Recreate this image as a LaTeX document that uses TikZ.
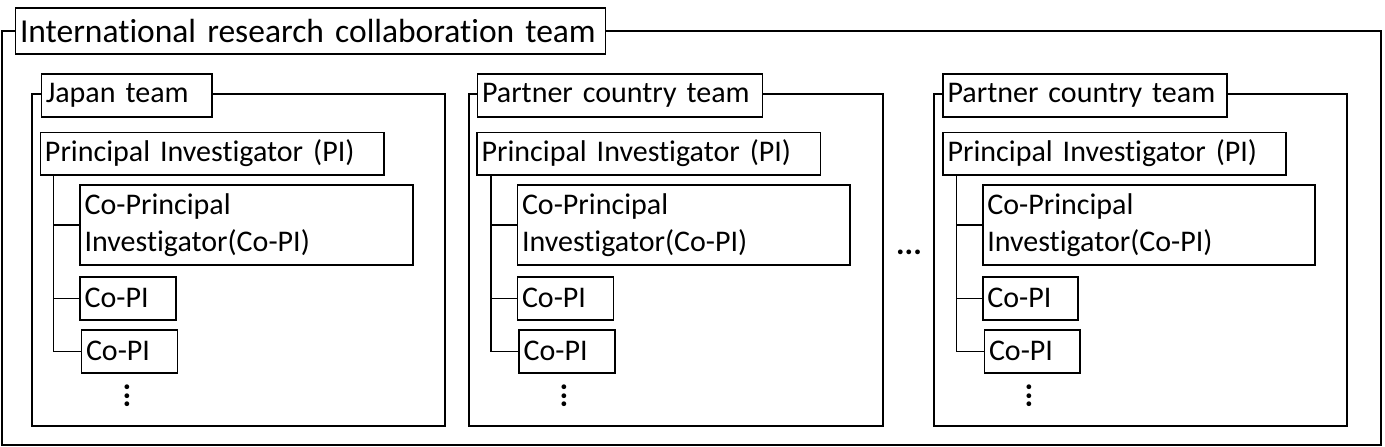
\documentclass[tikz,border=0pt]{standalone}
\usepackage{fontspec}
\setmainfont{Carlito}[Ligatures=NoCommon]
\tikzset{
    frame/.style={draw=black, line width=1.8pt},
    pbox/.style={draw=black, line width=1.6pt, fill=white, anchor=north west, align=left,
        inner xsep=4.5pt, inner ysep=0pt, font=\fontsize{30}{37}\selectfont},
    tree/.style={black, line width=1.4pt},
    dots/.style={inner sep=0pt, font=\fontsize{32}{36}\selectfont\bfseries}
}
\begin{document}
\begin{tikzpicture}[x=1pt, y=-1pt]
        \useasboundingbox (0,0) rectangle (1385,447);
        % whole collaboration
        \draw[frame] (2,31) rectangle (1381,445);
        \node[pbox, text width=581pt, minimum height=46pt, font=\fontsize{33.5}{40}\selectfont] (intl) at (14.7,7) {International research collaboration team};
        % Japan team
        \draw[frame] (31.7,94) rectangle (445,425.6);
        \node[pbox, text width=161.5pt, minimum height=43pt] (japan) at (40.5,73) {Japan team};
        \node[pbox, text width=334.5pt, minimum height=42.5pt] (japanPI) at (39.7,131.5) {Principal Investigator (PI)};
        \node[pbox, text width=323.7pt, minimum height=80pt] (japanCo) at (79.3,184) {Co-Principal\\Investigator(Co-PI)};
        \node[pbox, text width=87pt, minimum height=43pt] (japanCoA) at (79.3,276) {Co-PI};
        \node[pbox, text width=87pt, minimum height=43pt] (japanCoB) at (80.7,329) {Co-PI};
        \coordinate (japanT) at ([xshift=13.5pt]japanPI.south west);
        \draw[tree] (japanT) |- (japanCoB.west);
        \draw[tree] (japanT |- japanCo.west) -- (japanCo.west);
        \draw[tree] (japanT |- japanCoA.west) -- (japanCoA.west);
        \node[dots, rotate=90] (japanMore) at (127,396) {...};
        % partner country team
        \draw[frame] (469.3,94) rectangle (883.3,425.6);
        \node[pbox, text width=276pt, minimum height=43pt] (partner) at (476.7,73) {Partner country team};
        \node[pbox, text width=334.5pt, minimum height=42.5pt] (partnerPI) at (476.3,131.5) {Principal Investigator (PI)};
        \node[pbox, text width=323.7pt, minimum height=80pt] (partnerCo) at (516.7,184) {Co-Principal\\Investigator(Co-PI)};
        \node[pbox, text width=87pt, minimum height=43pt] (partnerCoA) at (516.7,276) {Co-PI};
        \node[pbox, text width=87pt, minimum height=43pt] (partnerCoB) at (518.3,329) {Co-PI};
        \coordinate (partnerT) at ([xshift=14.5pt]partnerPI.south west);
        \draw[tree] (partnerT) |- (partnerCoB.west);
        \draw[tree] (partnerT |- partnerCo.west) -- (partnerCo.west);
        \draw[tree] (partnerT |- partnerCoA.west) -- (partnerCoA.west);
        \node[dots, rotate=90] (partnerMore) at (564.7,396) {...};
        % more teams
        \node[dots] (more) at (909,252.5) {...};
        % last partner country team
        \draw[frame] (934,94) rectangle (1346.7,425.6);
        \node[pbox, text width=275pt, minimum height=43pt] (last) at (942.3,73) {Partner country team};
        \node[pbox, text width=334pt, minimum height=42.5pt] (lastPI) at (942.3,131.5) {Principal Investigator (PI)};
        \node[pbox, text width=323pt, minimum height=80pt] (lastCo) at (982,184) {Co-Principal\\Investigator(Co-PI)};
        \node[pbox, text width=86.3pt, minimum height=43pt] (lastCoA) at (982,276) {Co-PI};
        \node[pbox, text width=86.3pt, minimum height=43pt] (lastCoB) at (983.7,329) {Co-PI};
        \coordinate (lastT) at ([xshift=14.4pt]lastPI.south west);
        \draw[tree] (lastT) |- (lastCoB.west);
        \draw[tree] (lastT |- lastCo.west) -- (lastCo.west);
        \draw[tree] (lastT |- lastCoA.west) -- (lastCoA.west);
        \node[dots, rotate=90] (lastMore) at (1029,396) {...};
    \end{tikzpicture}
\end{document}
